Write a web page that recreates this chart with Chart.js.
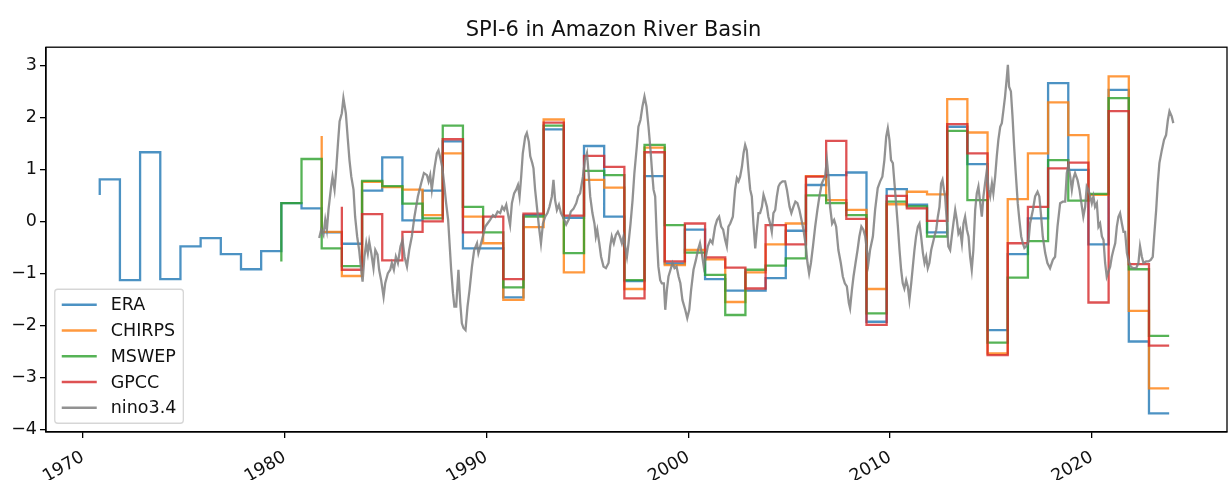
<!DOCTYPE html>
<html>
<head>
<meta charset="utf-8">
<title>SPI-6 in Amazon River Basin</title>
<script src="https://cdn.jsdelivr.net/npm/chart.js@4.4.1/dist/chart.umd.min.js"></script>
<style>
  html, body { margin: 0; padding: 0; background: #fff; }
  #wrap { width: 1229px; height: 480px; }
</style>
</head>
<body>
<div id="wrap"><canvas id="grafico" width="1229" height="480"></canvas></div>
<script>
// spi6.js - SPI-6 anual da bacia amazonica (4 bases) + indice nino3.4 mensal

// anos das series de SPI (valor de fim de outubro de cada ano)
const anos = [
  1970, 1971, 1972, 1973, 1974, 1975, 1976, 1977, 1978, 1979,
  1980, 1981, 1982, 1983, 1984, 1985, 1986, 1987, 1988, 1989,
  1990, 1991, 1992, 1993, 1994, 1995, 1996, 1997, 1998, 1999,
  2000, 2001, 2002, 2003, 2004, 2005, 2006, 2007, 2008, 2009,
  2010, 2011, 2012, 2013, 2014, 2015, 2016, 2017, 2018, 2019,
  2020, 2021, 2022, 2023
]
const FIM_OUT = 10 / 12

const era = [
  0.52, 0.82, -1.12, 1.34, -1.10, -0.47, -0.31, -0.62, -0.91, -0.56,
  0.36, 0.26, -0.20, -0.42, 0.60, 1.24, 0.03, 0.60, 1.55, -0.51,
  -0.51, -1.45, 0.13, 1.78, 0.08, 1.46, 0.10, -1.14, 0.88, -0.80,
  -0.15, -1.10, -1.32, -1.32, -1.08, -0.17, 0.71, 0.90, 0.95, -1.92,
  0.63, 0.33, -0.20, 1.83, 1.11, -2.08, -0.62, 0.07, 2.67, 1.00,
  -0.43, 2.54, -2.30, -3.68
]
const chirps = [
  null, null, null, null, null, null, null, null, null, null,
  null, 1.65, -0.19, -1.04, 0.77, 0.67, 0.62, 0.13, 1.32, 0.10,
  -0.41, -1.50, -0.10, 1.97, -0.97, 0.81, 0.66, -1.29, 1.43, -0.83,
  -0.54, -0.72, -1.54, -0.97, -0.43, -0.03, 0.88, 0.42, 0.23, -1.29,
  0.34, 0.58, 0.53, 2.36, 1.72, -2.53, 0.44, 1.32, 2.30, 1.67,
  0.52, 2.80, -1.71, -3.20
]
const mswep = [
  null, null, null, null, null, null, null, null, null, -0.76,
  0.36, 1.21, -0.51, -0.85, 0.79, 0.69, 0.35, 0.07, 1.85, 0.29,
  -0.20, -1.26, 0.10, 1.85, -0.60, 0.98, 0.90, -1.12, 1.48, -0.06,
  -0.59, -1.02, -1.79, -0.92, -0.84, -0.70, 0.51, 0.36, 0.13, -1.76,
  0.39, 0.30, -0.28, 1.75, 0.42, -2.32, -1.07, -0.37, 1.19, 0.41,
  0.54, 2.38, -0.91, -2.19
]
const gpcc = [
  null, null, null, null, null, null, null, null, null, null,
  null, null, 0.29, -0.92, 0.15, -0.74, -0.19, 0.01, 1.59, -0.20,
  0.10, -1.10, 0.16, 1.91, 0.12, 1.27, 1.06, -1.47, 1.34, -0.76,
  -0.03, -0.68, -0.88, -1.28, -0.06, -0.43, 0.87, 1.56, 0.06, -1.98,
  0.50, 0.26, 0.02, 1.88, 1.32, -2.56, -0.41, 0.29, 1.03, 1.14,
  -1.55, 2.13, -0.81, -2.38
]

// nino3.4 (anomalia padronizada), tempo em ano decimal
const ninoTempo = [
  1981.71, 1981.81, 1981.92, 1982.01, 1982.09, 1982.17, 1982.30, 1982.37, 1982.47, 1982.54, 1982.64, 1982.72, 1982.83, 1982.91,
  1983.03, 1983.13, 1983.21, 1983.30, 1983.41, 1983.49, 1983.59, 1983.69, 1983.79, 1983.86, 1983.95,
  1984.04, 1984.12, 1984.19, 1984.29, 1984.40, 1984.49, 1984.60, 1984.68, 1984.78, 1984.90, 1984.98,
  1985.11, 1985.23, 1985.31, 1985.41, 1985.51, 1985.61, 1985.74, 1985.84, 1985.94,
  1986.06, 1986.17, 1986.30, 1986.43, 1986.60, 1986.76, 1986.90,
  1987.05, 1987.13, 1987.21, 1987.29, 1987.42, 1987.54, 1987.62, 1987.73, 1987.81, 1987.90,
  1988.00, 1988.10, 1988.17, 1988.25, 1988.34, 1988.41, 1988.50, 1988.61, 1988.70, 1988.78, 1988.86, 1988.96,
  1989.06, 1989.16, 1989.28, 1989.39, 1989.53, 1989.60, 1989.69, 1989.82, 1989.94,
  1990.05, 1990.18, 1990.32, 1990.43, 1990.55, 1990.68, 1990.78, 1990.88, 1990.98,
  1991.09, 1991.17, 1991.26, 1991.37, 1991.47, 1991.56, 1991.64, 1991.72, 1991.80, 1991.92,
  1992.00, 1992.10, 1992.17, 1992.27, 1992.33, 1992.41, 1992.50, 1992.60, 1992.70, 1992.80, 1992.91,
  1993.02, 1993.12, 1993.24, 1993.32, 1993.40, 1993.49, 1993.59, 1993.69, 1993.82, 1993.95,
  1994.08, 1994.18, 1994.31, 1994.45, 1994.54, 1994.64, 1994.78, 1994.88, 1994.98,
  1995.06, 1995.14, 1995.25, 1995.35, 1995.42, 1995.49, 1995.59, 1995.68, 1995.80, 1995.92,
  1996.05, 1996.13, 1996.21, 1996.31, 1996.41, 1996.51, 1996.61, 1996.71, 1996.79, 1996.87, 1996.96,
  1997.04, 1997.14, 1997.24, 1997.33, 1997.45, 1997.53, 1997.63, 1997.73, 1997.83, 1997.93,
  1998.03, 1998.13, 1998.20, 1998.28, 1998.36, 1998.44, 1998.52, 1998.61, 1998.69, 1998.79, 1998.86, 1998.94,
  1999.02, 1999.12, 1999.22, 1999.32, 1999.42, 1999.52, 1999.61, 1999.71, 1999.85, 1999.95,
  2000.05, 2000.14, 2000.26, 2000.38, 2000.48, 2000.58, 2000.67, 2000.77, 2000.87, 2000.97,
  2001.09, 2001.20, 2001.33, 2001.43, 2001.53, 2001.63, 2001.73, 2001.83, 2001.91, 2001.99,
  2002.08, 2002.21, 2002.32, 2002.41, 2002.49, 2002.57, 2002.66, 2002.74, 2002.82, 2002.90, 2002.98,
  2003.07, 2003.15, 2003.23, 2003.32, 2003.40, 2003.48, 2003.56, 2003.65, 2003.73, 2003.81, 2003.90, 2003.97,
  2004.06, 2004.14, 2004.22, 2004.31, 2004.39, 2004.47, 2004.55, 2004.67, 2004.80, 2004.89,
  2005.02, 2005.11, 2005.21, 2005.31, 2005.41, 2005.51, 2005.61, 2005.71, 2005.81, 2005.91, 2005.99,
  2006.08, 2006.18, 2006.29, 2006.40, 2006.50, 2006.62, 2006.70, 2006.78, 2006.87, 2006.95,
  2007.03, 2007.13, 2007.23, 2007.33, 2007.44, 2007.56, 2007.66, 2007.76, 2007.86, 2007.96,
  2008.02, 2008.11, 2008.19, 2008.29, 2008.39, 2008.48, 2008.58, 2008.68, 2008.77, 2008.85, 2008.93,
  2009.01, 2009.15, 2009.26, 2009.39, 2009.51, 2009.62, 2009.72, 2009.81, 2009.89, 2009.97,
  2010.05, 2010.14, 2010.22, 2010.30, 2010.39, 2010.47, 2010.55, 2010.63, 2010.71, 2010.80, 2010.88, 2010.96,
  2011.05, 2011.13, 2011.21, 2011.29, 2011.38, 2011.46, 2011.54, 2011.63, 2011.71, 2011.79, 2011.87, 2011.95,
  2012.04, 2012.12, 2012.20, 2012.29, 2012.37, 2012.45, 2012.53, 2012.60, 2012.67, 2012.73, 2012.82, 2012.89, 2012.98,
  2013.06, 2013.14, 2013.23, 2013.31, 2013.39, 2013.47, 2013.56, 2013.64, 2013.72, 2013.81, 2013.89, 2013.97,
  2014.05, 2014.13, 2014.22, 2014.30, 2014.38, 2014.47, 2014.55, 2014.63, 2014.71, 2014.80, 2014.88, 2014.96,
  2015.05, 2015.12, 2015.21, 2015.29, 2015.37, 2015.46, 2015.54, 2015.62, 2015.70, 2015.79, 2015.84, 2015.90, 2015.99,
  2016.07, 2016.15, 2016.23, 2016.33, 2016.41, 2016.50, 2016.58, 2016.66, 2016.75, 2016.86, 2016.94,
  2017.08, 2017.19, 2017.31, 2017.40, 2017.49, 2017.57, 2017.69, 2017.80, 2017.93,
  2018.07, 2018.18, 2018.30, 2018.43, 2018.56, 2018.68, 2018.76, 2018.84, 2018.93,
  2019.01, 2019.09, 2019.17, 2019.29, 2019.39, 2019.51, 2019.58, 2019.67, 2019.75, 2019.83, 2019.92,
  2020.00, 2020.08, 2020.16, 2020.25, 2020.33, 2020.41, 2020.50, 2020.58, 2020.66, 2020.74, 2020.82, 2020.91, 2020.99,
  2021.07, 2021.16, 2021.24, 2021.32, 2021.40, 2021.49, 2021.57, 2021.65, 2021.74, 2021.81, 2021.93,
  2022.06, 2022.20, 2022.31, 2022.39, 2022.48, 2022.56, 2022.69, 2022.81, 2022.92,
  2023.02, 2023.09, 2023.19, 2023.27, 2023.35, 2023.47, 2023.58, 2023.68, 2023.77, 2023.85, 2023.96, 2024.04
]
const ninoValor = [
  -0.31, -0.15, -0.25, 0.04, -0.15, 0.23, 0.68, 0.87, 0.62, 0.94, 1.51, 1.93, 2.09, 2.38,
  2.09, 1.58, 1.19, 0.87, 0.62, 0.10, -0.28, -0.54, -0.92, -1.15, -0.67,
  -0.41, -0.60, -0.38, -0.60, -0.89, -0.54, -0.63, -0.92, -1.12, -1.44, -1.18,
  -0.99, -0.92, -0.79, -0.92, -0.67, -0.79, -0.47, -0.35, -0.67,
  -0.86, -0.54, -0.28, 0.10, 0.49, 0.74, 0.94,
  0.90, 0.78, 0.90, 0.62, 1.03, 1.32, 1.38, 1.20, 1.05, 0.74,
  0.36, 0.04, -0.41, -0.92, -1.37, -1.63, -1.63, -0.92, -1.56, -1.95, -2.04, -2.08,
  -1.63, -1.31, -0.86, -0.54, -0.41, -0.60, -0.47, -0.28, -0.09,
  -0.03, 0.04, 0.13, 0.10, 0.20, 0.17, 0.29, 0.23, 0.33,
  0.10, -0.06, 0.36, 0.55, 0.62, 0.71, 0.49, 0.87, 1.32, 1.64,
  1.71, 1.54, 1.26, 1.13, 1.03, 0.62, 0.29, -0.09, -0.41, -0.03, 0.10,
  0.17, 0.29, 0.49, 0.81, 0.42, 0.23, 0.33, 0.17, 0.07, -0.05,
  0.05, 0.20, 0.25, 0.36, 0.49, 0.55, 0.87, 1.19, 1.32,
  0.95, 0.49, 0.17, -0.03, -0.28, -0.15, -0.41, -0.67, -0.86, -0.89,
  -0.79, -0.47, -0.28, -0.41, -0.25, -0.19, -0.28, -0.41, -0.28, -0.47, -0.67,
  -0.41, -0.03, 0.42, 0.94, 1.45, 1.83, 1.96, 2.22, 2.41, 2.22,
  1.83, 1.38, 1.00, 0.62, 0.49, -0.28, -0.86, -1.12, -1.18, -1.18, -1.69, -1.31,
  -1.05, -0.92, -0.79, -0.89, -0.86, -1.05, -1.18, -1.50, -1.69, -1.85,
  -1.69, -1.31, -0.92, -0.73, -0.54, -0.41, -0.60, -0.86, -0.67, -0.47,
  -0.35, -0.41, -0.09, 0.04, 0.10, -0.09, -0.15, -0.35, -0.47, -0.09,
  -0.03, 0.10, 0.62, 0.84, 0.78, 0.87, 1.06, 1.32, 1.48, 1.38, 1.00,
  0.62, 0.49, -0.03, -0.51, -0.15, 0.17, 0.17, 0.29, 0.52, 0.42, 0.29, 0.10,
  -0.03, -0.19, 0.17, 0.23, 0.49, 0.68, 0.74, 0.78, 0.78, 0.62,
  0.29, 0.17, 0.29, 0.39, 0.36, 0.23, 0.04, -0.15, -0.41, -0.79, -0.99,
  -0.79, -0.47, -0.09, 0.23, 0.49, 0.74, 0.81, 0.87, 1.19, 0.87,
  0.29, -0.03, 0.04, -0.09, -0.54, -0.79, -1.05, -1.18, -1.24, -1.56,
  -1.66, -1.31, -1.05, -0.79, -0.54, -0.28, -0.09, -0.15, -0.28, -0.54, -0.79,
  -0.54, -0.28, 0.23, 0.65, 0.78, 0.87, 1.19, 1.64, 1.80, 1.58,
  1.19, 1.13, 0.74, 0.36, -0.09, -0.54, -0.92, -1.18, -1.28, -1.12, -1.24, -1.50,
  -1.18, -0.86, -0.54, -0.28, -0.09, -0.03, -0.28, -0.60, -0.79, -0.67, -0.89, -0.79,
  -0.54, -0.41, -0.28, -0.15, 0.10, 0.29, 0.74, 0.81, 0.62, 0.49, -0.03, -0.47, -0.54,
  -0.28, -0.03, 0.23, 0.04, -0.22, -0.15, -0.41, -0.03, 0.10, -0.15, -0.28, -0.67,
  -0.92, -0.54, 0.23, 0.55, 0.68, 0.36, 0.10, 0.49, 0.74, 1.00, 0.62, 0.49,
  0.74, 0.55, 0.87, 1.26, 1.58, 1.83, 1.90, 2.15, 2.41, 2.79, 3.02, 2.60, 2.51,
  2.03, 1.45, 0.94, 0.36, 0.04, -0.28, -0.41, -0.50, -0.47, -0.38, -0.03,
  0.23, 0.49, 0.58, 0.49, 0.10, -0.28, -0.60, -0.79, -0.89,
  -0.73, -0.67, -0.09, 0.36, 0.39, 0.39, 0.94, 1.10, 0.87,
  0.62, 0.84, 0.94, 0.81, 0.62, 0.29, 0.10, 0.29, 0.68, 0.62, 0.49,
  0.36, 0.49, 0.29, 0.36, -0.09, -0.03, -0.28, -0.35, -0.79, -1.05, -0.96, -0.86, -0.67,
  -0.54, -0.41, -0.09, 0.10, 0.17, -0.03, -0.19, -0.19, -0.60, -0.73, -0.86,
  -0.89, -0.89, -0.79, -0.47, -0.67, -0.79, -0.76, -0.76, -0.73,
  -0.67, -0.28, 0.23, 0.74, 1.13, 1.38, 1.58, 1.67, 1.96, 2.13, 2.03, 1.90
]

// ticks dos eixos
const ticksX = [1970, 1980, 1990, 2000, 2010, 2020]
const ticksY = [-4, -3, -2, -1, 0, 1, 2, 3]

const FONTE = '"DejaVu Sans", sans-serif'

// transforma a serie anual em pontos {x, y} ignorando anos sem dado
function serie(valores) {
  return anos
    .map((a, i) => valores[i] == null ? null : { x: a + FIM_OUT, y: valores[i] })
    .filter(Boolean)
}

function degrau(label, valores, cor, ordem) {
  return {
    label,
    data: serie(valores),
    borderColor: cor,
    borderWidth: 2.3,
    stepped: 'after',
    pointRadius: 0,
    fill: false,
    order: ordem
  }
}

// moldura completa em volta da area do grafico (como os spines do matplotlib)
const moldura = {
  id: 'moldura',
  afterDatasetsDraw(chart) {
    const { ctx, chartArea: a } = chart
    ctx.save()
    ctx.strokeStyle = '#000'
    ctx.lineWidth = 1.3
    ctx.strokeRect(a.left, a.top, a.right - a.left, a.bottom - a.top)
    ctx.restore()
  }
}

// legenda com caixa no canto inferior esquerdo
const legenda = {
  id: 'legenda',
  afterDraw(chart) {
    const { ctx, chartArea: a } = chart
    const fs = 17.5, pad = 7, linha = 17, gap = 8.75, handle = 35, textoGap = 14
    const sets = chart.data.datasets
    ctx.save()
    ctx.font = `${fs}px ${FONTE}`
    const textoW = Math.max(...sets.map(d => ctx.measureText(d.label).width))
    const w = pad * 2 + handle + textoGap + textoW
    const h = pad * 2 + sets.length * linha + (sets.length - 1) * gap
    const x0 = a.left + 8.75
    const y0 = a.bottom - 8.75 - h
    ctx.beginPath()
    ctx.roundRect(x0, y0, w, h, 3)
    ctx.fillStyle = 'rgba(255,255,255,0.8)'
    ctx.fill()
    ctx.strokeStyle = 'rgba(204,204,204,0.8)'
    ctx.lineWidth = 1.3
    ctx.stroke()
    sets.forEach((d, i) => {
      const cy = y0 + pad + linha / 2 + i * (linha + gap)
      ctx.beginPath()
      ctx.moveTo(x0 + pad, cy)
      ctx.lineTo(x0 + pad + handle, cy)
      ctx.strokeStyle = d.borderColor
      ctx.lineWidth = d.borderWidth
      ctx.stroke()
      ctx.fillStyle = '#111'
      ctx.textBaseline = 'middle'
      ctx.textAlign = 'left'
      ctx.fillText(d.label, x0 + pad + handle + textoGap, cy + 1)
    })
    ctx.restore()
  }
}

const datasets = [
  degrau('ERA', era, 'rgba(31,119,180,0.8)', 5),
  degrau('CHIRPS', chirps, 'rgba(255,127,14,0.8)', 4),
  degrau('MSWEP', mswep, 'rgba(44,160,44,0.8)', 3),
  degrau('GPCC', gpcc, 'rgba(214,39,40,0.8)', 2),
  {
    label: 'nino3.4',
    data: ninoTempo.map((t, i) => ({ x: t, y: ninoValor[i] })),
    borderColor: 'rgba(127,127,127,0.85)',
    borderWidth: 2.3,
    pointRadius: 0,
    fill: false,
    order: 1
  }
]

const minus = v => String(v).replace('-', '\u2212')

new Chart(document.getElementById('grafico'), {
  type: 'line',
  data: { datasets },
  options: {
    responsive: false,
    devicePixelRatio: 1,
    animation: false,
    events: [],
    layout: { padding: { left: 0, right: 2, top: 0, bottom: 0 } },
    plugins: {
      legend: { display: false },
      tooltip: { enabled: false },
      title: {
        display: true,
        text: 'SPI-6 in Amazon River Basin',
        color: '#111',
        font: { family: FONTE, size: 21, weight: 'normal' },
        padding: { top: 18, bottom: 4 }
      }
    },
    scales: {
      x: {
        type: 'linear',
        min: 1968.17,
        max: 2026.70,
        afterBuildTicks: s => { s.ticks = ticksX.map(v => ({ value: v })) },
        afterFit: s => { s.height = 48 },
        border: { display: true, color: '#000', width: 1.3 },
        grid: { drawOnChartArea: false, drawTicks: true, tickLength: 6, color: '#000', lineWidth: 1.3 },
        ticks: {
          autoSkip: false,
          minRotation: 30,
          maxRotation: 30,
          padding: 9,
          color: '#111',
          font: { family: FONTE, size: 17.5 },
          callback: v => String(v)
        }
      },
      y: {
        min: -4.04,
        max: 3.36,
        afterBuildTicks: s => { s.ticks = ticksY.map(v => ({ value: v })) },
        afterFit: s => { s.width = 46 },
        border: { display: true, color: '#000', width: 1.3 },
        grid: { drawOnChartArea: false, drawTicks: true, tickLength: 6, color: '#000', lineWidth: 1.3 },
        ticks: {
          padding: 3,
          color: '#111',
          font: { family: FONTE, size: 17.5 },
          callback: v => minus(v)
        }
      }
    }
  },
  plugins: [moldura, legenda]
})
</script>
</body>
</html>
